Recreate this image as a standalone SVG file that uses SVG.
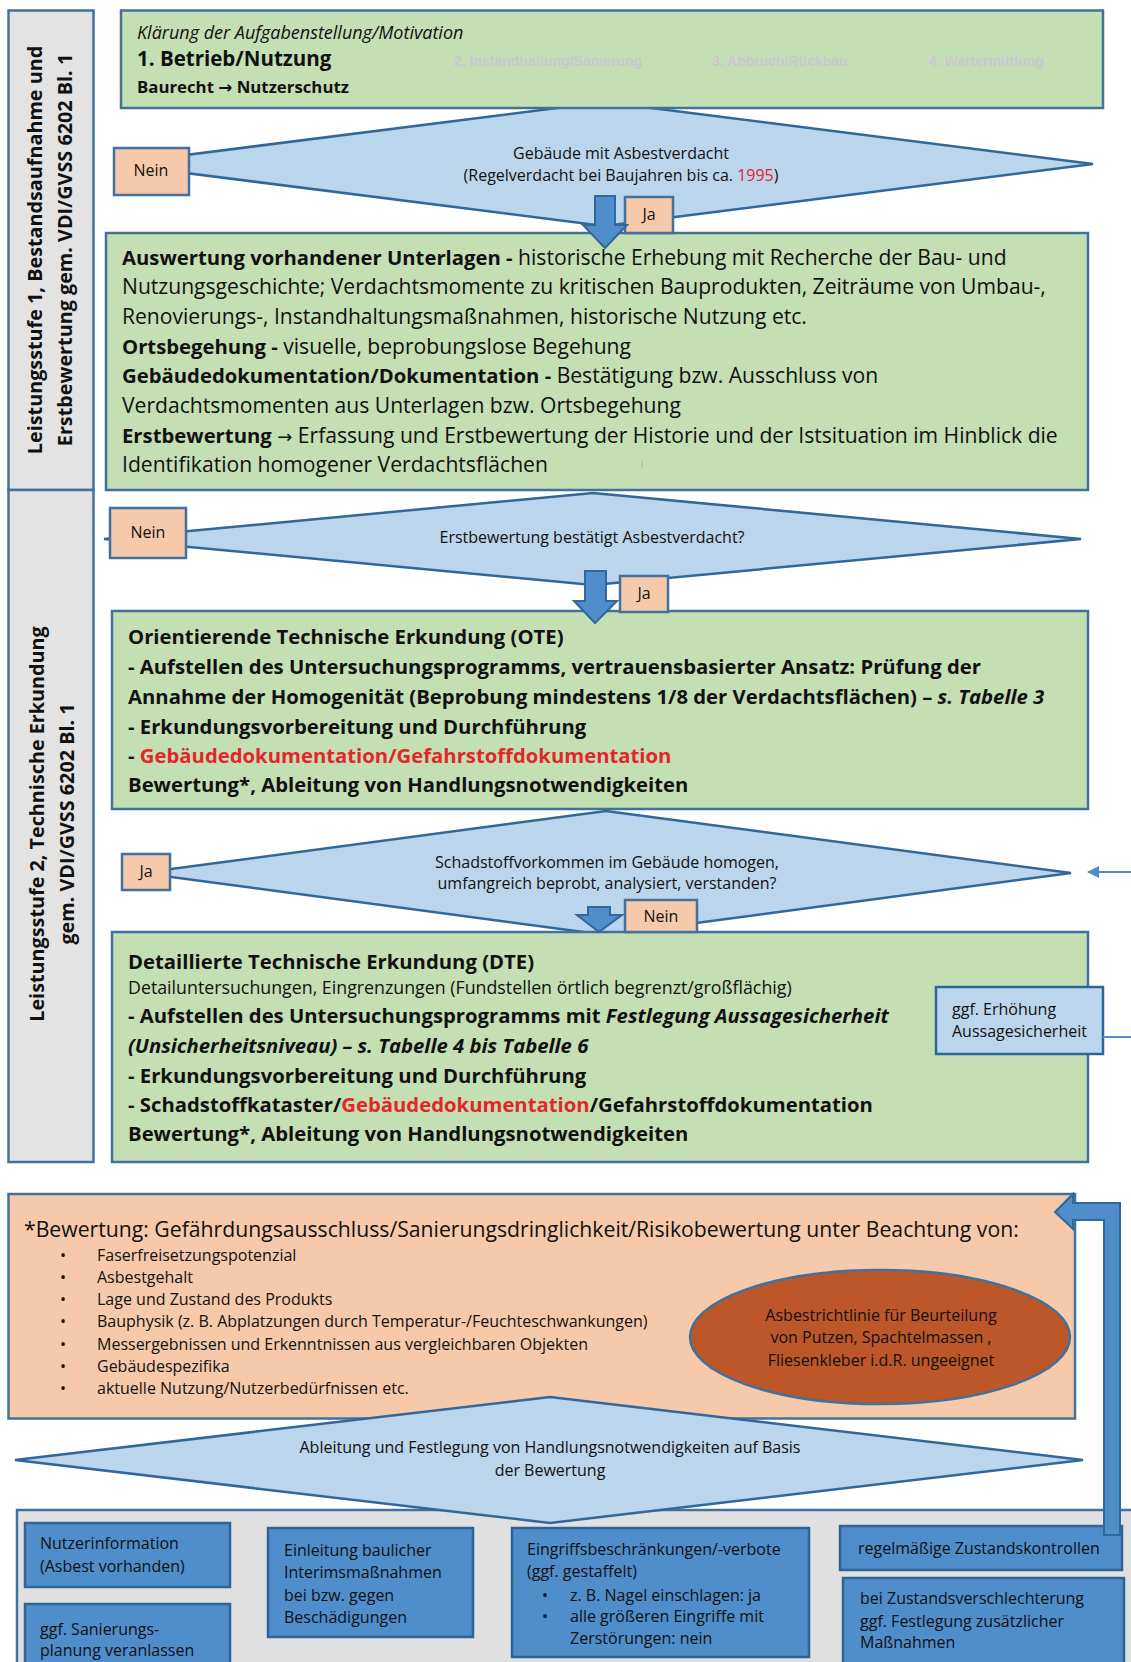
<svg xmlns="http://www.w3.org/2000/svg" width="1131" height="1662" viewBox="0 0 1131 1662">
<defs>
<style>
text{font-family:"Open Sans","Liberation Sans",Arial,sans-serif;fill:#111}
.side{fill:#e3e3e3;stroke:#41719c;stroke-width:2.5}
.green{fill:#c4dfb3;stroke:#41719c;stroke-width:2.5}
.dia{fill:#bbd5ec;stroke:#31679a;stroke-width:2.5}
.peach{fill:#f6c9aa;stroke:#41719c;stroke-width:2.5}
.barrow{fill:#4f8dcb;stroke:#31679a;stroke-width:2}
.bbox{fill:#4f8dcb;stroke:#2f6496;stroke-width:2.5}
.lbox{fill:#bbd5ec;stroke:#2f6496;stroke-width:2.5}
.st{font-size:19.8px;font-weight:bold}
.m{font-size:21.1px}
.m .b{font-size:20.3px}
.mb{font-size:20.3px;font-weight:bold}
.s{font-size:16px}
.c{text-anchor:middle}
.b{font-weight:bold}
.i{font-style:italic}
.red{fill:#e3262b}
.arr{font-family:"DejaVu Sans",sans-serif}
.grey{font-family:"Liberation Sans",Arial,sans-serif;font-size:14px;font-weight:bold;fill:#cbc5d4}
.conn{stroke:#4f8dcb;stroke-width:2;fill:none}
</style>
<marker id="ah" markerWidth="12" markerHeight="12" refX="11" refY="6" orient="auto" markerUnits="userSpaceOnUse">
<path d="M0,0 L12,6 L0,12 Z" fill="#4f8dcb"/>
</marker>
</defs>
<rect width="1131" height="1662" fill="#fff"/>

<g id="sidebar1">
<rect class="side" x="8.5" y="10.5" width="85" height="479.5"/>
<text class="st c" transform="translate(42,250) rotate(-90)">Leistungsstufe 1, Bestandsaufnahme und</text>
<text class="st c" transform="translate(72,250) rotate(-90)">Erstbewertung gem. VDI/GVSS 6202 Bl. 1</text>
</g>
<g id="sidebar2">
<rect class="side" x="8.5" y="490" width="85" height="672"/>
<text class="st c" transform="translate(44,824) rotate(-90)">Leistungsstufe 2, Technische Erkundung</text>
<text class="st c" transform="translate(74,824) rotate(-90)">gem. VDI/GVSS 6202 Bl. 1</text>
</g>

<g id="decision1">
<polygon class="dia" points="604,102 1093,164 604,226 115,164"/>
<text class="s c" x="621" y="159">Gebäude mit Asbestverdacht</text>
<text class="s c" x="621" y="181">(Regelverdacht bei Baujahren bis ca. <tspan class="red">1995</tspan>)</text>
</g>

<g id="start">
<rect class="green" x="121" y="10.5" width="982" height="97.5"/>
<text class="i" x="137" y="39" style="font-size:18px">Klärung der Aufgabenstellung/Motivation</text>
<text class="b" x="137" y="66" style="font-size:20.5px">1. Betrieb/Nutzung</text>
<text class="b" x="137" y="93" style="font-size:16.8px">Baurecht <tspan class="arr">→</tspan> Nutzerschutz</text>
<text class="grey" x="454" y="66">2. Instandhaltung/Sanierung</text>
<text class="grey" x="712" y="66">3. Abbruch/Rückbau</text>
<text class="grey" x="929" y="66">4. Wertermittlung</text>
</g>

<g id="nein1"><rect class="peach" x="114" y="148" width="75" height="47"/><text class="s c" x="151" y="176">Nein</text></g>

<g id="step1">
<rect class="green" x="106" y="233" width="982" height="257"/>
<text class="m" x="122" y="265"><tspan class="b">Auswertung vorhandener Unterlagen -</tspan> historische Erhebung mit Recherche der Bau- und</text>
<text class="m" x="122" y="294">Nutzungsgeschichte; Verdachtsmomente zu kritischen Bauprodukten, Zeiträume von Umbau-,</text>
<text class="m" x="122" y="324">Renovierungs-, Instandhaltungsmaßnahmen, historische Nutzung etc.</text>
<text class="m" x="122" y="354"><tspan class="b">Ortsbegehung -</tspan> visuelle, beprobungslose Begehung</text>
<text class="m" x="122" y="383"><tspan class="b">Gebäudedokumentation/Dokumentation -</tspan> Bestätigung bzw. Ausschluss von</text>
<text class="m" x="122" y="413">Verdachtsmomenten aus Unterlagen bzw. Ortsbegehung</text>
<text class="m" x="122" y="443"><tspan class="b">Erstbewertung</tspan> <tspan class="arr" style="font-size:18px">→</tspan> Erfassung und Erstbewertung der Historie und der Istsituation im Hinblick die</text>
<text class="m" x="122" y="472">Identifikation homogener Verdachtsflächen</text>
<line x1="642" y1="461" x2="642" y2="468" stroke="#8fb4d8" stroke-width="1"/>
</g>

<g id="ja1"><rect class="peach" x="625" y="197" width="48" height="36"/><text class="s c" x="649" y="220">Ja</text></g>

<g id="decision2">
<polygon class="dia" points="593,493 1081,539 593,585 104,539"/>
<text class="s c" x="592" y="543">Erstbewertung bestätigt Asbestverdacht?</text>
</g>
<g id="nein2"><rect class="peach" x="110" y="508" width="76" height="50"/><text class="s c" x="148" y="538">Nein</text></g>

<g id="ote">
<rect class="green" x="112" y="611" width="976" height="198"/>
<text class="mb" x="128" y="644">Orientierende Technische Erkundung (OTE)</text>
<text class="mb" x="128" y="674">- Aufstellen des Untersuchungsprogramms, vertrauensbasierter Ansatz: Prüfung der</text>
<text class="mb" x="128" y="704">Annahme der Homogenität (Beprobung mindestens 1/8 der Verdachtsflächen) – <tspan class="i">s. Tabelle 3</tspan></text>
<text class="mb" x="128" y="734">- Erkundungsvorbereitung und Durchführung</text>
<text class="mb" x="128" y="763">- <tspan class="red">Gebäudedokumentation/Gefahrstoffdokumentation</tspan></text>
<text class="mb" x="128" y="792">Bewertung*, Ableitung von Handlungsnotwendigkeiten</text>
</g>
<g id="ja2"><rect class="peach" x="620" y="576" width="48" height="36"/><text class="s c" x="644" y="599">Ja</text></g>

<g id="decision3">
<polygon class="dia" points="606,811 1071,873 606,935 141,873"/>
<text class="s c" x="607" y="868">Schadstoffvorkommen im Gebäude homogen,</text>
<text class="s c" x="607" y="889">umfangreich beprobt, analysiert, verstanden?</text>
</g>
<g id="ja3"><rect class="peach" x="122" y="854" width="48" height="36"/><text class="s c" x="146" y="877">Ja</text></g>

<g id="dte">
<rect class="green" x="112" y="932" width="976" height="230"/>
<text class="mb" x="128" y="969">Detaillierte Technische Erkundung (DTE)</text>
<text x="128" y="994" style="font-size:17.8px">Detailuntersuchungen, Eingrenzungen (Fundstellen örtlich begrenzt/großflächig)</text>
<text class="mb" x="128" y="1023">- Aufstellen des Untersuchungsprogramms mit <tspan class="i">Festlegung Aussagesicherheit</tspan></text>
<text class="mb i" x="128" y="1053">(Unsicherheitsniveau) – s. Tabelle 4 bis Tabelle 6</text>
<text class="mb" x="128" y="1083">- Erkundungsvorbereitung und Durchführung</text>
<text class="mb" x="128" y="1112">- Schadstoffkataster/<tspan class="red">Gebäudedokumentation</tspan>/Gefahrstoffdokumentation</text>
<text class="mb" x="128" y="1141">Bewertung*, Ableitung von Handlungsnotwendigkeiten</text>
</g>
<g id="nein3"><rect class="peach" x="625" y="900" width="72" height="32"/><text class="s c" x="661" y="922">Nein</text></g>

<g id="ggf">
<rect class="lbox" x="936" y="987" width="167" height="67"/>
<text class="s" x="952" y="1015">ggf. Erhöhung</text>
<text class="s" x="952" y="1037">Aussagesicherheit</text>
</g>

<g id="bewertung">
<rect class="peach" x="8.5" y="1194" width="1066.5" height="224.5"/>
<text x="24" y="1237" style="font-size:21.2px">*Bewertung: Gefährdungsausschluss/Sanierungsdringlichkeit/Risikobewertung unter Beachtung von:</text>
<g style="font-size:16px">
<text x="60" y="1261">•</text><text x="97" y="1261">Faserfreisetzungspotenzial</text>
<text x="60" y="1283">•</text><text x="97" y="1283">Asbestgehalt</text>
<text x="60" y="1305">•</text><text x="97" y="1305">Lage und Zustand des Produkts</text>
<text x="60" y="1327">•</text><text x="97" y="1327">Bauphysik (z. B. Abplatzungen durch Temperatur-/Feuchteschwankungen)</text>
<text x="60" y="1350">•</text><text x="97" y="1350">Messergebnissen und Erkenntnissen aus vergleichbaren Objekten</text>
<text x="60" y="1372">•</text><text x="97" y="1372">Gebäudespezifika</text>
<text x="60" y="1394">•</text><text x="97" y="1394">aktuelle Nutzung/Nutzerbedürfnissen etc.</text>
</g>
</g>
<g id="richtlinie">
<ellipse cx="880" cy="1337" rx="190" ry="67" fill="#bd5629" stroke="#41719c" stroke-width="2.5"/>
<text class="s c" x="881" y="1321">Asbestrichtlinie für Beurteilung</text>
<text class="s c" x="881" y="1343">von Putzen, Spachtelmassen ,</text>
<text class="s c" x="881" y="1366">Fliesenkleber i.d.R. ungeeignet</text>
</g>

<g id="massnahmen">
<rect x="17" y="1510" width="1125" height="170" fill="#e0e0e0" stroke="#41719c" stroke-width="2.5"/>
</g>

<g id="decision4">
<polygon class="dia" points="550,1397 1083,1460 550,1523 15,1460"/>
<text class="s c" x="550" y="1453">Ableitung und Festlegung von Handlungsnotwendigkeiten auf Basis</text>
<text class="s c" x="550" y="1476">der Bewertung</text>
</g>

<g id="m1"><rect class="bbox" x="25" y="1523" width="205" height="64"/>
<text class="s" x="40" y="1549">Nutzerinformation</text><text class="s" x="40" y="1572">(Asbest vorhanden)</text></g>
<g id="m2"><rect class="bbox" x="25" y="1604" width="205" height="70"/>
<text class="s" x="40" y="1635">ggf. Sanierungs-</text><text class="s" x="40" y="1656">planung veranlassen</text></g>
<g id="m3"><rect class="bbox" x="268" y="1528" width="205" height="109"/>
<text class="s" x="284" y="1556">Einleitung baulicher</text><text class="s" x="284" y="1578">Interimsmaßnahmen</text>
<text class="s" x="284" y="1601">bei bzw. gegen</text><text class="s" x="284" y="1623">Beschädigungen</text></g>
<g id="m4"><rect class="bbox" x="512" y="1528" width="297" height="129"/>
<text class="s" x="527" y="1555">Eingriffsbeschränkungen/-verbote</text><text class="s" x="527" y="1577">(ggf. gestaffelt)</text>
<text class="s" x="542" y="1601">•</text><text class="s" x="570" y="1601">z. B. Nagel einschlagen: ja</text>
<text class="s" x="542" y="1622">•</text><text class="s" x="570" y="1622">alle größeren Eingriffe mit</text>
<text class="s" x="570" y="1644">Zerstörungen: nein</text></g>
<g id="m5"><rect class="bbox" x="840" y="1526" width="282" height="44"/>
<text class="s" x="858" y="1554">regelmäßige Zustandskontrollen</text></g>
<g id="m6"><rect class="bbox" x="843" y="1578" width="281" height="95"/>
<text class="s" x="860" y="1604">bei Zustandsverschlechterung</text><text class="s" x="860" y="1627">ggf. Festlegung zusätzlicher</text>
<text class="s" x="860" y="1648">Maßnahmen</text></g>

<g id="connectors">
<path class="barrow" d="M595,196 H615 V225 H627 L605,248 L583,225 H595 Z"/>
<path class="barrow" d="M585,571 H606 V601 H617 L595,623 L574,601 H585 Z"/>
<path class="barrow" d="M588,907 H610 V915 H622 L599,932 L577,915 H588 Z"/>
<path class="barrow" d="M1104,1535 V1220 H1073 V1229 L1055,1212 L1073,1194 V1203 H1120 V1535 Z"/>
<line class="conn" x1="1131" y1="872" x2="1088" y2="872" marker-end="url(#ah)"/>
<line class="conn" x1="1103" y1="1037" x2="1131" y2="1037"/>
</g>
</svg>
